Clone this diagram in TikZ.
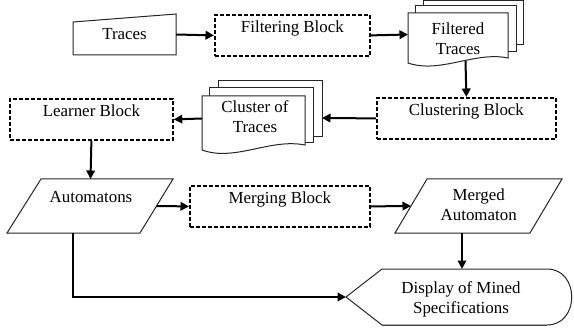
\documentclass[tikz,border=0pt]{standalone}
\usepackage{fontspec}
\setmainfont{Liberation Serif}
\usetikzlibrary{arrows.meta}
\tikzset{
  every node/.style={font=\fontsize{16.9pt}{20pt}\selectfont},
  dbox/.style={draw, dash pattern=on 3.8pt off 2.2pt, line width=1.8pt, inner xsep=0pt, inner ysep=0pt,
    text height=18pt, text depth=23pt, anchor=north west},
  shp/.style={draw=black!85, line width=1pt, fill=white},
  arr/.style={line width=2pt, -{Triangle[length=8.5pt,width=8.5pt]}},
  txt/.style={inner sep=0pt, align=center}
}
\begin{document}
\begin{tikzpicture}[x=1pt,y=-1pt]
\useasboundingbox (0,0) rectangle (574,329);

% Traces (manual input)
\draw[shp] (73,22) -- (176,14) -- (176,55) -- (73,55) -- cycle;
\node[txt, anchor=base] (traces) at (124.5,40) {Traces};
\coordinate (traces-e) at (176,34.5);

% Filtering Block
\node[dbox, minimum width=155pt] (filter) at (214,14) {Filtering Block};

% Filtered Traces (multi-document)
\draw[shp] (423,1) rectangle (523,45);
\draw[shp] (415,6) rectangle (516,52);
\draw[shp] (408,13) -- (508,13) -- (508,58) .. controls (475,51) and (440,74) .. (408,63) -- cycle;
\node[txt] (ftr) at (458,38.5) {Filtered\\Traces};
\coordinate (ftr-w) at (408,34.5);
\coordinate (ftr-s) at (465.5,61);

% Clustering Block
\node[dbox, minimum width=179pt] (clust) at (376,97) {Clustering Block};

% Cluster of Traces (multi-document)
\draw[shp] (218,81) rectangle (322,137);
\draw[shp] (209,88) rectangle (313,143);
\draw[shp] (202,96) -- (305,96) -- (305,145) .. controls (270,138) and (235,162) .. (202,150) -- cycle;
\node[txt] (cot) at (255,117) {Cluster of\\Traces};
\coordinate (cot-e) at (322,118);
\coordinate (cot-w) at (202,118.5);

% Learner Block
\node[dbox, minimum width=163pt] (learner) at (9,98) {Learner Block};

% Automatons (parallelogram)
\draw[shp] (41,179) -- (173,179) -- (140,233) -- (7,233) -- cycle;
\node[txt, anchor=base] (auto) at (91,202) {Automatons};
\coordinate (auto-n) at (90.5,179);
\coordinate (auto-e) at (156.5,206);
\coordinate (auto-s) at (73,233);

% Merging Block
\node[dbox, minimum width=180pt] (merge) at (189,185) {Merging Block};

% Merged Automaton (parallelogram)
\draw[shp] (427,179) -- (562,179) -- (530,233) -- (395,233) -- cycle;
\node[txt] (merged) at (478.7,205) {Merged\\Automaton};
\coordinate (merged-w) at (411,206);
\coordinate (merged-s) at (462,233);

% Display of Mined Specifications
\draw[black!55, line width=1.8pt] (382,325.5) -- (547,325.5);
\draw[shp, fill=none] (346,297) -- (382,269) -- (547,269) .. controls (580,269) and (580,325) .. (547,325) -- (382,325) -- cycle;
\node[txt] (disp) at (461,299.5) {Display of Mined\\Specifications};
\coordinate (disp-n) at (462,269);
\coordinate (disp-w) at (346,297);

% connectors
\draw[arr] (traces-e) -- (filter.west);
\draw[arr] (filter.east) -- (ftr-w);
\draw[arr] (ftr-s) -- (clust.north);
\draw[arr] (clust.west) -- (cot-e);
\draw[arr] (cot-w) -- (learner.east);
\draw[arr] (learner.south) -- (auto-n);
\draw[arr] (auto-e) -- (merge.west);
\draw[arr] (merge.east) -- (merged-w);
\draw[arr] (merged-s) -- (disp-n);
\draw[arr] (auto-s) |- (disp-w);
\end{tikzpicture}
\end{document}
